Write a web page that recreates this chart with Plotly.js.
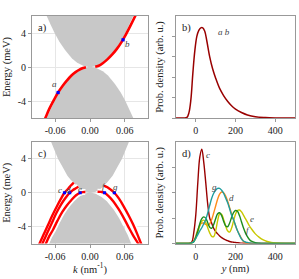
<!DOCTYPE html>
<html><head><meta charset="utf-8">
<script src="https://cdn.plot.ly/plotly-3.0.1.min.js"></script>
<style>html,body{margin:0;padding:0;background:#fff}#plot{width:299px;height:279px}</style>
</head><body><div id="plot"></div>
<script>
// ---------- Panel a) ----------
const bulkA_up_k = [-0.078,-0.075,-0.068,-0.061,-0.053,-0.043,-0.031,-0.022,-0.010,0.000,0.010,0.022,0.031,0.043,0.053,0.061,0.068,0.075,0.078];
const bulkA_up_E = [6.5,6.0,5.0,4.0,3.0,2.0,1.0,0.5,0.1,-0.03,0.1,0.5,1.0,2.0,3.0,4.0,5.0,6.0,6.5];
const bulkA_dn_k = [-0.078,-0.075,-0.068,-0.061,-0.053,-0.043,-0.031,-0.022,-0.010,0.000,0.010,0.022,0.031,0.043,0.053,0.061,0.068,0.075,0.078];
const bulkA_dn_E = [-6.5,-6.0,-5.0,-4.0,-3.0,-2.0,-1.0,-0.5,-0.1,0.03,-0.1,-0.5,-1.0,-2.0,-3.0,-4.0,-5.0,-6.0,-6.5];
const edgeA_left_k = [-0.079,-0.077,-0.070,-0.062,-0.055,-0.047,-0.040,-0.032,-0.025,-0.018,-0.012,-0.007];
const edgeA_left_E = [-6.3,-6.0,-4.9,-3.85,-3.0,-2.2,-1.6,-1.0,-0.6,-0.3,-0.12,-0.02];
const edgeA_right_k = [0.009,0.015,0.022,0.030,0.038,0.046,0.054,0.062,0.070,0.078,0.080];
const edgeA_right_E = [0.02,0.15,0.45,0.9,1.45,2.1,2.9,3.85,4.9,6.0,6.3];
const statesA_k = [-0.055, 0.057];
const statesA_E = [-3.0, 3.2];
const statesA_lbl = ['a','b'];
const statesA_lblk = [-0.061, 0.064];
const statesA_lblE = [-2.0, 2.7];

// ---------- Panel b) ----------
const yB = [-100,-60,-45,-35,-25,-15,-5,5,15,25,35,45,55,70,85,100,120,140,160,180,200,230,260,300,350,400,500];
const probAB = [0,0,0.03,0.25,0.9,2.2,3.3,4.0,4.3,4.42,4.42,4.25,3.8,3.0,2.4,1.95,1.45,1.1,0.82,0.6,0.44,0.27,0.15,0.06,0.02,0.005,0];

// ---------- Panel c) ----------
const bulkC_up_k = [-0.070,-0.067,-0.061,-0.055,-0.047,-0.039,-0.027,-0.019,-0.009,0.000,0.009,0.019,0.027,0.039,0.047,0.055,0.061,0.067,0.070];
const bulkC_up_E = [6.5,6.0,5.0,4.0,3.0,2.0,1.0,0.5,0.1,-0.03,0.1,0.5,1.0,2.0,3.0,4.0,5.0,6.0,6.5];
const bulkC_dn_k = [-0.074,-0.071,-0.065,-0.058,-0.050,-0.041,-0.029,-0.020,-0.009,0.000,0.009,0.020,0.029,0.041,0.050,0.058,0.065,0.071,0.074];
const bulkC_dn_E = [-6.5,-6.0,-5.0,-4.0,-3.0,-2.0,-1.0,-0.5,-0.1,0.03,-0.1,-0.5,-1.0,-2.0,-3.0,-4.0,-5.0,-6.0,-6.5];
const edgeC_c_k = [-0.028,-0.033,-0.038,-0.044,-0.050,-0.057,-0.065,-0.073,-0.080,-0.087,-0.089];
const edgeC_c_E = [1.2,0.85,0.45,0.0,-0.7,-1.6,-2.7,-3.9,-4.95,-6.0,-6.3];
const edgeC_d_k = [-0.020,-0.025,-0.030,-0.035,-0.042,-0.050,-0.058,-0.066,-0.074,-0.082,-0.084];
const edgeC_d_E = [0.7,0.5,0.28,0.0,-0.6,-1.4,-2.4,-3.6,-4.8,-6.0,-6.3];
const edgeC_e_k = [-0.008,-0.012,-0.017,-0.024,-0.032,-0.040,-0.048,-0.056,-0.064,-0.070,-0.076,-0.078];
const edgeC_e_E = [0.08,0.08,0.0,-0.3,-0.85,-1.5,-2.3,-3.3,-4.4,-5.1,-6.0,-6.3];
const edgeC_f_k = [0.013,0.019,0.025,0.032,0.040,0.048,0.056,0.066,0.074,0.083,0.085];
const edgeC_f_E = [0.12,0.1,0.0,-0.4,-1.0,-1.8,-2.7,-4.0,-5.0,-6.0,-6.3];
const edgeC_g_k = [0.024,0.030,0.036,0.042,0.050,0.058,0.066,0.074,0.081,0.088,0.090];
const edgeC_g_E = [0.85,0.65,0.35,0.0,-0.7,-1.6,-2.6,-3.7,-4.8,-6.0,-6.3];
const statesC_k = [-0.044,-0.035,-0.017,0.025,0.042];
const statesC_E = [0,0,0,0,0];
const statesC_lbl = ['c','d','e','f','g'];
const statesC_lblk = [-0.051,-0.037,-0.018,0.024,0.044];
const statesC_lblE = [0.35,0.35,0.4,0.8,0.65];

// ---------- Panel d) ----------
const yD = [-100,-40,-30,-20,-10,0,10,20,30,40,50,60,70,80,90,100,110,120,130,140,150,160,170,180,190,200,210,220,230,240,250,260,270,280,300,320,340,360,380,400,450,500];
const probC = [0,0,0.01,0.06,0.45,1.15,2.4,3.4,3.72,3.2,2.4,1.55,1.0,0.8,0.6,0.47,0.38,0.3,0.23,0.18,0.14,0.11,0.08,0.06,0.05,0.04,0.03,0.02,0.015,0.01,0,0,0,0,0,0,0,0,0,0,0,0];
const probD = [0,0,0,0.02,0.1,0.3,0.55,0.72,0.8,0.8,0.75,0.72,0.78,0.95,1.2,1.48,1.75,1.95,2.03,2.0,1.88,1.68,1.42,1.18,0.92,0.7,0.5,0.35,0.2,0.08,0.03,0.01,0,0,0,0,0,0,0,0,0,0];
const probE = [0,0,0,0.02,0.08,0.22,0.45,0.7,0.88,0.92,0.82,0.62,0.42,0.28,0.27,0.5,0.9,1.17,1.15,0.95,0.7,0.5,0.45,0.6,0.88,1.15,1.3,1.32,1.25,1.12,0.98,0.84,0.7,0.58,0.38,0.24,0.14,0.08,0.04,0.02,0,0];
const probF = [0,0,0,0.02,0.08,0.25,0.5,0.78,0.98,1.05,1.0,0.82,0.64,0.6,0.75,0.98,1.17,1.21,1.1,0.88,0.7,0.66,0.8,1.02,1.22,1.3,1.27,1.1,0.86,0.62,0.42,0.27,0.16,0.09,0.03,0.01,0,0,0,0,0,0];
const probG = [0,0,0,0.02,0.08,0.2,0.35,0.5,0.62,0.78,0.95,1.2,1.5,1.78,1.98,2.1,2.17,2.17,2.1,1.98,1.8,1.62,1.38,1.12,0.95,0.72,0.5,0.33,0.18,0.1,0.06,0.04,0.02,0.01,0,0,0,0,0,0,0,0];
const dLbl = ['c','g','d','e','f'];
const dLblX = [62,92,180,282,262];
const dLblY = [3.5,2.24,1.8,0.97,0.55];

// ---------- styles ----------
const SERIF = 'Liberation Serif, Times New Roman, serif';
const RED = '#ff0000', BLUE = '#0000ff', GRAY = '#c8c8c8';
const colC = '#990000', colD = '#ff8c1a', colE = '#c8c800', colF = '#1e8c1e', colG = '#1f9e9e';

function fillT(x, y, xa, ya){ return {x:x, y:y, xaxis:xa, yaxis:ya, type:'scatter', mode:'lines', fill:'toself', fillcolor:GRAY, line:{width:0, color:GRAY}, hoverinfo:'skip', showlegend:false}; }
function lineT(x, y, xa, ya, color, w, shape){ return {x:x, y:y, xaxis:xa, yaxis:ya, type:'scatter', mode:'lines', line:{color:color, width:w, shape:shape||'spline'}, hoverinfo:'skip', showlegend:false}; }
function dotT(x, y, xa, ya){ return {x:x, y:y, xaxis:xa, yaxis:ya, type:'scatter', mode:'markers', marker:{color:BLUE, size:3.2, symbol:'square', line:{width:0}}, hoverinfo:'skip', showlegend:false}; }

const traces = [
  fillT(bulkA_up_k, bulkA_up_E, 'x', 'y'),
  fillT(bulkA_dn_k, bulkA_dn_E, 'x', 'y'),
  lineT(edgeA_left_k, edgeA_left_E, 'x', 'y', RED, 2.6),
  lineT(edgeA_right_k, edgeA_right_E, 'x', 'y', RED, 2.6),
  dotT(statesA_k, statesA_E, 'x', 'y'),
  lineT(yB, probAB, 'x2', 'y2', colC, 1.5),
  fillT(bulkC_up_k, bulkC_up_E, 'x3', 'y3'),
  fillT(bulkC_dn_k, bulkC_dn_E, 'x3', 'y3'),
];
[[edgeC_c_k,edgeC_c_E],[edgeC_d_k,edgeC_d_E],[edgeC_e_k,edgeC_e_E],[edgeC_f_k,edgeC_f_E],[edgeC_g_k,edgeC_g_E]].forEach(function(p){
  traces.push(lineT(p[0], p[1], 'x3', 'y3', '#ffffff', 6));
});
[[edgeC_c_k,edgeC_c_E],[edgeC_d_k,edgeC_d_E],[edgeC_e_k,edgeC_e_E],[edgeC_f_k,edgeC_f_E],[edgeC_g_k,edgeC_g_E]].forEach(function(p){
  traces.push(lineT(p[0], p[1], 'x3', 'y3', RED, 2.4));
});
traces.push(dotT(statesC_k, statesC_E, 'x3', 'y3'));
traces.push(lineT(yD, probC, 'x4', 'y4', colC, 1.4));
traces.push(lineT(yD, probD, 'x4', 'y4', colD, 1.4));
traces.push(lineT(yD, probE, 'x4', 'y4', colE, 1.4));
traces.push(lineT(yD, probF, 'x4', 'y4', colF, 1.4));
traces.push(lineT(yD, probG, 'x4', 'y4', colG, 1.4));

const tickFont = {family:SERIF, size:10, color:'#222'};
const titleFont = {family:SERIF, size:10.5, color:'#222'};
function kAxis(dom, anchor, title){
  const a = {domain:dom, anchor:anchor, range:[-0.1,0.1], tickvals:[-0.06,0,0.06], ticktext:['-0.06','0.00','0.06'],
    showgrid:true, gridcolor:'#e6e6e6', gridwidth:1, zeroline:false, showline:true, mirror:true, linecolor:'#999', linewidth:1,
    ticks:'outside', ticklen:3, tickcolor:'#999', tickfont:tickFont};
  if (title) a.title = {text:title, font:titleFont, standoff:4};
  return a;
}
function eAxis(dom, anchor){
  return {domain:dom, anchor:anchor, range:[-6,6], tickvals:[-4,0,4], ticktext:['-4','0','4'],
    showgrid:true, gridcolor:'#e6e6e6', gridwidth:1, zeroline:false, showline:true, mirror:true, linecolor:'#999', linewidth:1,
    ticks:'outside', ticklen:3, tickcolor:'#999', tickfont:tickFont,
    title:{text:'Energy (meV)', font:titleFont, standoff:4}};
}
function yAxisN(dom, anchor, title){
  const a = {domain:dom, anchor:anchor, range:[-100,500], tickvals:[0,200,400], ticktext:['0','200','400'],
    showgrid:false, zeroline:false, showline:true, mirror:true, linecolor:'#999', linewidth:1,
    ticks:'outside', ticklen:3, tickcolor:'#999', tickfont:tickFont};
  if (title) a.title = {text:title, font:titleFont, standoff:4};
  return a;
}
function pAxis(dom, anchor, rng, tv){
  return {domain:dom, anchor:anchor, range:rng, tickvals:tv, showticklabels:false,
    showgrid:false, zeroline:false, showline:true, mirror:true, linecolor:'#999', linewidth:1,
    ticks:'outside', ticklen:3, tickcolor:'#999',
    title:{text:'Prob. density (arb. u.)', font:titleFont, standoff:6}};
}

const xL = [32/299, 148/299], xR = [176/299, 295/299];
const yT = [1-118/279, 1-16/279], yBt = [1-243.5/279, 1-142/279];

const annotations = [];
function lbl(text, xr, yr){ annotations.push({text:text, xref:xr+' domain', yref:yr+' domain', x:0.035, y:0.965, xanchor:'left', yanchor:'top', showarrow:false, font:{family:SERIF, size:10.5, color:'#222'}}); }
lbl('a)', 'x', 'y'); lbl('b)', 'x2', 'y2'); lbl('c)', 'x3', 'y3'); lbl('d)', 'x4', 'y4');
function itl(text, x, y, xr, yr, xa){ annotations.push({text:'<i>'+text+'</i>', xref:xr, yref:yr, x:x, y:y, xanchor:xa||'center', yanchor:'middle', showarrow:false, font:{family:SERIF, size:9, color:'#444'}}); }
statesA_lbl.forEach(function(t,i){ itl(t, statesA_lblk[i], statesA_lblE[i], 'x', 'y'); });
statesC_lbl.forEach(function(t,i){ itl(t, statesC_lblk[i], statesC_lblE[i], 'x3', 'y3'); });
itl('a b', 140, 4.2, 'x2', 'y2');
dLbl.forEach(function(t,i){ itl(t, dLblX[i], dLblY[i], 'x4', 'y4'); });

const layout = {
  width:299, height:279, margin:{l:0, r:0, t:0, b:0}, paper_bgcolor:'#fff', plot_bgcolor:'#fff', showlegend:false,
  xaxis: kAxis(xL, 'y', null),
  yaxis: eAxis(yT, 'x'),
  xaxis2: yAxisN(xR, 'y2', null),
  yaxis2: pAxis(yT, 'x2', [0,5], [0,1,2,3,4]),
  xaxis3: kAxis(xL, 'y3', '<i>k</i> (nm<sup>-1</sup>)'),
  yaxis3: eAxis(yBt, 'x3'),
  xaxis4: yAxisN(xR, 'y4', '<i>y</i> (nm)'),
  yaxis4: pAxis(yBt, 'x4', [0,4], [0,1,2,3]),
  annotations: annotations
};
Plotly.newPlot('plot', traces, layout, {staticPlot:true, displayModeBar:false});
</script></body></html>
